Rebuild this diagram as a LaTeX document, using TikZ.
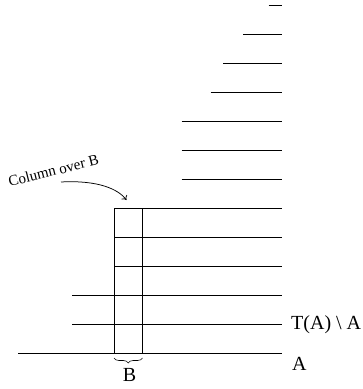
\documentclass[tikz,border=0pt]{standalone}
\usepackage{fontspec}
\setmainfont{Liberation Serif}
\usetikzlibrary{decorations.pathreplacing,arrows.meta}
\begin{document}
\begin{tikzpicture}[x=1pt,y=1pt,
  seg/.style={line width=0.75pt,black},
  lab/.style={inner sep=0pt,font=\fontsize{20}{23}\selectfont},
  note/.style={inner sep=0pt,font=\fontsize{15}{18}\selectfont}]
\useasboundingbox (0,0) rectangle (363,389);
% horizontal lines, y_k = 35.3 + 29 k
\foreach \k/\xl in {0/18.3,1/72.3,2/72.3,3/114,4/114,5/114,6/181.7,7/181.7,8/181.7,9/210.7,10/223,11/243,12/268.7}{
  \draw[seg] (\xl,{35.3+29*\k}) -- (282,{35.3+29*\k});
}
% column over B
\coordinate (cbl) at (114,35.3);
\coordinate (cbr) at (142.5,35.3);
\coordinate (ctl) at (114,180.3);
\coordinate (ctr) at (142.5,180.3);
\draw[seg] (cbl) -- (ctl) (cbr) -- (ctr);
% brace
\draw[line width=0.6pt,decorate,decoration={brace,amplitude=5pt}] (142.5,31) -- (114,31);
\node[lab,anchor=base] (B) at (129.5,7.3) {B};
\node[lab,anchor=base west] (TA) at (291,59.7) {T(A) \textbackslash{} A};
\node[lab,anchor=base west] (A) at (292,19) {A};
\node[note,anchor=base,rotate=14] (col) at (54.7,213.5) {Column over B};
\coordinate (arrs) at (61,207);
\coordinate (arre) at (126.5,189);
\draw[line width=0.75pt,-{To[length=4pt,width=7pt]}] (arrs) .. controls (98,209) and (118,200) .. (arre);
\end{tikzpicture}
\end{document}
